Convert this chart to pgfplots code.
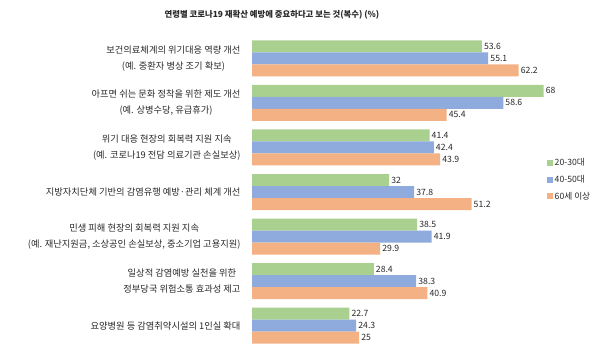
\documentclass[border=0pt]{standalone}
\usepackage{pgfplots}
\pgfplotsset{compat=1.18}
\usepackage{fontspec}
\setmainfont{Noto Sans CJK KR}
\definecolor{cg}{RGB}{169,208,142}
\definecolor{cb}{RGB}{143,170,220}
\definecolor{co}{RGB}{244,177,131}
\definecolor{tx}{RGB}{40,40,40}
\begin{document}
\begin{tikzpicture}[x=1bp,y=1bp]
\useasboundingbox (0,0) rectangle (608,360);
\node[font=\fontsize{8.4}{11}\selectfont\bfseries, text=tx] at (272,345) {연령별 코로나19 재확산 예방에 중요하다고 보는 것(복수) (\%)};
\begin{axis}[
  at={(252bp,12bp)}, anchor=south west,
  scale only axis, width=343bp, height=312bp,
  xbar, bar width=12bp,
  xmin=0, xmax=80,
  ymin=-0.5, ymax=6.5, y dir=reverse,
  ytick={0,1,2,3,4,5,6},
  yticklabels={
    {보건의료체계의 위기대응 역량 개선\\(예. 중환자 병상 조기 확보)},
    {아프면 쉬는 문화 정착을 위한 제도 개선\\(예. 상병수당, 유급휴가)},
    {위기 대응 현장의 회복력 지원 지속\\(예. 코로나19 전담 의료기관 손실보상)},
    {지방자치단체 기반의 감염유행 예방·관리 체계 개선},
    {민생 피해 현장의 회복력 지원 지속\\(예. 재난지원금, 소상공인 손실보상, 중소기업 고용지원)},
    {일상적 감염예방 실천을 위한\\정부당국 위험소통 효과성 제고},
    {요양병원 등 감염취약시설의 1인실 확대}},
  yticklabel style={align=center, font=\fontsize{9.3}{16}\selectfont, text=tx, xshift=-8bp},
  major tick length=0pt,
  xtick=\empty,
  axis line style={draw=none},
  nodes near coords,
  nodes near coords style={font=\fontsize{8.7}{10}\selectfont, text=tx, anchor=west, inner xsep=2bp},
  point meta=explicit symbolic,
  legend style={at={(0.85,0.62)}, anchor=north west, draw=none, fill=none,
    font=\fontsize{8.7}{10}\selectfont, text=tx, row sep=4bp, legend cell align=left},
  legend image code/.code={\fill[#1] (0bp,-3bp) rectangle (6bp,3bp);},
]
\addplot[fill=cg, draw=none, bar shift=12bp] coordinates {(53.6,0)[53.6] (68,1)[68] (41.4,2)[41.4] (32,3)[32] (38.5,4)[38.5] (28.4,5)[28.4] (22.7,6)[22.7]};
\addplot[fill=cb, draw=none, bar shift=0bp] coordinates {(55.1,0)[55.1] (58.6,1)[58.6] (42.4,2)[42.4] (37.8,3)[37.8] (41.9,4)[41.9] (38.3,5)[38.3] (24.3,6)[24.3]};
\addplot[fill=co, draw=none, bar shift=-12bp] coordinates {(62.2,0)[62.2] (45.4,1)[45.4] (43.9,2)[43.9] (51.2,3)[51.2] (29.9,4)[29.9] (40.9,5)[40.9] (25,6)[25]};
\legend{20-30대,40-50대,60세 이상}
\end{axis}
\end{tikzpicture}
\end{document}
